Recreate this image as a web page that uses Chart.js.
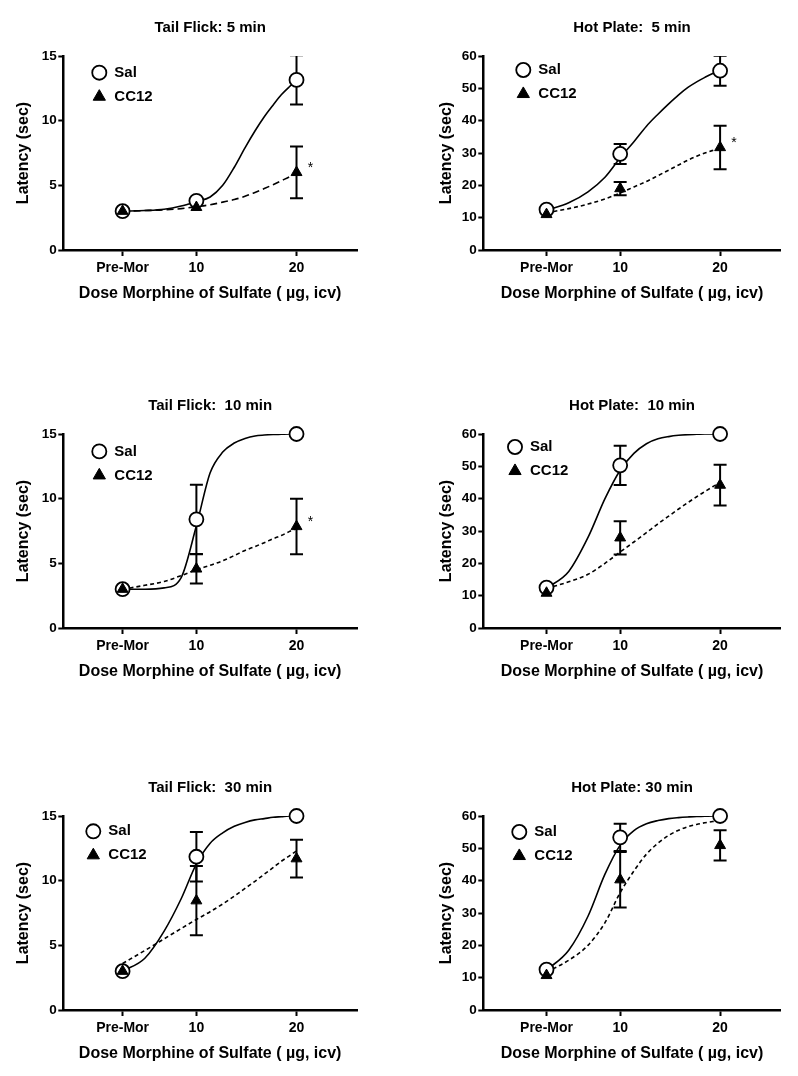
<!DOCTYPE html>
<html>
<head>
<meta charset="utf-8">
<script src="https://cdn.jsdelivr.net/npm/chart.js@4.4.1/dist/chart.umd.min.js"></script>
<style>
  body { margin: 0; background: #fff; }
  #wrap { position: relative; width: 798px; height: 1076px; }
  canvas { position: absolute; }
</style>
</head>
<body>
<div id="wrap"></div>
<script>
// doses: Pre-Mor sits at 6 on the log dose axis, like the original plot
const doses = [6, 10, 20]
const doseLabels = ['Pre-Mor', '10', '20']
const fitDoses = [6, 7, 8, 9, 10, 11, 12, 13, 14, 15, 16, 17, 18, 19, 20]

const titles = ['Tail Flick: 5 min', 'Hot Plate:  5 min', 'Tail Flick:  10 min',
                'Hot Plate:  10 min', 'Tail Flick:  30 min', 'Hot Plate: 30 min']
const yMax = [15, 60, 15, 60, 15, 60]
const yStep = [5, 10, 5, 10, 5, 10]

// means and SEM per panel (0 = bar hidden behind symbol)
const salMean = [[3.0, 3.8, 13.15], [12.5, 29.7, 55.45], [3.0, 8.4, 15.0],
                 [12.5, 50.3, 60.0], [3.0, 11.85, 15.0], [12.5, 53.4, 60.0]]
const salSem = [[0, 0, 1.9], [0, 3.1, 4.65], [0, 2.67, 0],
                [0, 6.1, 0], [0, 1.92, 0], [0, 4.2, 0]]
const ccMean = [[3.0, 3.3, 6.0], [11.0, 19.0, 31.7], [3.0, 4.57, 7.85],
                [10.8, 27.9, 44.2], [3.0, 8.45, 11.7], [10.7, 40.3, 50.9]]
const ccSem = [[0, 0, 2.0], [0, 2.05, 6.7], [0, 1.13, 2.15],
               [0, 5.15, 6.3], [0, 2.68, 1.46], [0, 8.6, 4.7]]

// fitted curves at fitDoses
const salFit = [
  [3.0, 3.05, 3.15, 3.4, 3.75, 4.1, 5.0, 6.4, 7.9, 9.2, 10.3, 11.2, 12.0, 12.6, 13.1],
  [12.3, 14.6, 18.0, 22.5, 28.5, 33.5, 38.3, 42.0, 45.2, 48.0, 50.3, 52.0, 53.4, 54.6, 55.5],
  [3.0, 3.0, 3.1, 3.9, 7.9, 12.0, 13.6, 14.3, 14.65, 14.85, 14.92, 14.96, 14.98, 15.0, 15.0],
  [12.3, 17.5, 28.0, 40.0, 48.8, 54.0, 57.0, 58.5, 59.2, 59.6, 59.8, 59.9, 60.0, 60.0, 60.0],
  [3.0, 4.0, 6.1, 8.6, 11.3, 12.9, 13.7, 14.2, 14.5, 14.7, 14.8, 14.9, 14.95, 15.0, 15.0],
  [12.3, 18.5, 29.0, 42.0, 51.0, 55.5, 57.6, 58.6, 59.2, 59.5, 59.7, 59.85, 59.9, 60.0, 60.0]
]
const ccFit = [
  [3.0, 3.05, 3.1, 3.2, 3.35, 3.5, 3.7, 3.9, 4.15, 4.45, 4.75, 5.05, 5.35, 5.65, 5.9],
  [11.5, 12.8, 14.2, 15.8, 17.6, 19.5, 21.2, 23.0, 24.7, 26.3, 27.8, 29.0, 30.0, 30.8, 31.5],
  [3.0, 3.3, 3.6, 4.05, 4.5, 4.85, 5.2, 5.6, 6.0, 6.3, 6.6, 6.9, 7.15, 7.45, 7.7],
  [12.2, 14.3, 16.6, 20.0, 23.5, 26.6, 29.5, 32.2, 34.6, 36.8, 38.8, 40.6, 42.2, 43.7, 45.0],
  [3.6, 4.6, 5.5, 6.3, 7.0, 7.6, 8.2, 8.8, 9.4, 9.95, 10.5, 11.0, 11.5, 11.9, 12.3],
  [11.7, 15.4, 20.0, 27.0, 36.3, 43.0, 48.2, 51.6, 54.0, 55.6, 56.7, 57.4, 57.9, 58.3, 58.6]
]
const starred = [true, true, true, false, false, false]

// where each panel sits on the page
const frames = [
  { left: 0,   top: 0,   w: 400, yW: 63.3, padR: 43,   yPad: 14.4, xMin: 3.98, xMax: 30.4,  leg: [36, 16.7] },
  { left: 400, top: 0,   w: 398, yW: 83.3, padR: 17.3, yPad: 37.1, xMin: 3.87, xMax: 30.45, leg: [40, 14] },
  { left: 0,   top: 378, w: 400, yW: 63.3, padR: 43,   yPad: 14.4, xMin: 3.98, xMax: 30.4,  leg: [36, 17.4] },
  { left: 400, top: 378, w: 398, yW: 83.3, padR: 17.3, yPad: 37.1, xMin: 3.87, xMax: 30.45, leg: [31.7, 13] },
  { left: 0,   top: 760, w: 400, yW: 63.3, padR: 43,   yPad: 14.4, xMin: 3.98, xMax: 30.4,  leg: [30, 15.3] },
  { left: 400, top: 760, w: 398, yW: 83.3, padR: 17.3, yPad: 37.1, xMin: 3.87, xMax: 30.45, leg: [36, 16] }
]

Chart.defaults.font.family = '"Liberation Sans", Arial, sans-serif'
Chart.defaults.color = '#000'

// move the legend to the spot used in each panel
const legendSpot = {
  id: 'legendSpot',
  beforeDraw(chart, args, opts) {
    const lg = chart.legend
    const a = chart.chartArea
    const pad = lg.options.labels.padding
    lg.left = a.left + opts.dx - pad - 7.5
    lg.top = a.top + opts.dy - pad - 7.5
    lg.right = lg.left + 160
    lg.bottom = lg.top + 70
  }
}

const starMark = {
  id: 'starMark',
  afterDatasetsDraw(chart, args, opts) {
    if (!opts.show) return
    const { ctx, scales: { x, y } } = chart
    ctx.save()
    ctx.font = '14px "Liberation Sans", Arial, sans-serif'
    ctx.fillStyle = '#000'
    ctx.textAlign = 'center'
    ctx.textBaseline = 'middle'
    ctx.fillText('*', x.getPixelForValue(opts.dose) + 14, y.getPixelForValue(opts.value) - 4)
    ctx.restore()
  }
}

const errData = (mean, sem) => {
  let pts = []
  doses.forEach((d, i) => {
    if (sem[i] > 0) {
      pts.push({ x: d, y: mean[i] - sem[i] }, { x: d, y: mean[i] + sem[i] }, { x: d, y: null })
    }
  })
  return pts
}

const wrap = document.getElementById('wrap')

frames.forEach((f, p) => {
  const canvas = document.createElement('canvas')
  canvas.width = f.w
  canvas.height = 310
  canvas.style.left = f.left + 'px'
  canvas.style.top = f.top + 'px'
  canvas.style.width = f.w + 'px'
  canvas.style.height = '310px'
  wrap.appendChild(canvas)

  new Chart(canvas, {
    type: 'line',
    data: {
      datasets: [
        {
          label: 'Sal',
          data: doses.map((d, i) => ({ x: d, y: salMean[p][i] })),
          showLine: false, clip: false, order: 1,
          pointStyle: 'circle', pointRadius: 7, pointBorderWidth: 1.8,
          pointBackgroundColor: '#fff', pointBorderColor: '#000'
        },
        {
          label: 'CC12',
          data: doses.map((d, i) => ({ x: d, y: ccMean[p][i] })),
          showLine: false, clip: false, order: 0,
          pointStyle: 'triangle', pointRadius: 6.3, pointBorderWidth: 1,
          pointBackgroundColor: '#000', pointBorderColor: '#000'
        },
        {
          label: 'Sal fit',
          data: fitDoses.map((d, i) => ({ x: d, y: salFit[p][i] })),
          order: 2, pointRadius: 0, borderColor: '#000', borderWidth: 1.6,
          cubicInterpolationMode: 'monotone'
        },
        {
          label: 'CC12 fit',
          data: fitDoses.map((d, i) => ({ x: d, y: ccFit[p][i] })),
          order: 2, pointRadius: 0, borderColor: '#000', borderWidth: 1.6,
          borderDash: p === 0 ? [7, 4] : [4, 3],
          cubicInterpolationMode: 'monotone'
        },
        {
          label: 'Sal sem',
          data: errData(salMean[p], salSem[p]),
          order: 3, borderColor: '#000', borderWidth: 2, spanGaps: false,
          pointStyle: 'line', pointRadius: 6.5, pointBorderWidth: 2, pointBorderColor: '#000'
        },
        {
          label: 'CC12 sem',
          data: errData(ccMean[p], ccSem[p]),
          order: 3, borderColor: '#000', borderWidth: 2, spanGaps: false,
          pointStyle: 'line', pointRadius: 6.5, pointBorderWidth: 2, pointBorderColor: '#000'
        }
      ]
    },
    options: {
      responsive: false,
      animation: false,
      devicePixelRatio: 1,
      events: [],
      layout: { padding: { left: 0, right: f.padR, top: 0, bottom: 0 } },
      scales: {
        x: {
          type: 'logarithmic',
          min: f.xMin, max: f.xMax, bounds: 'data',
          afterBuildTicks: (axis) => { axis.ticks = doses.map(v => ({ value: v })) },
          afterFit: (axis) => { axis.height = 60 },
          ticks: {
            autoSkip: false, maxRotation: 0, padding: 3.5,
            font: { size: 14, weight: 'bold' },
            callback: (v, i) => doseLabels[i]
          },
          grid: { drawOnChartArea: false, drawTicks: true, tickLength: 6, tickWidth: 2, tickColor: '#000' },
          border: { display: true, color: '#000', width: 2.5 },
          title: {
            display: true, text: 'Dose Morphine of Sulfate ( \u00b5g, icv)',
            font: { size: 16, weight: 'bold' }, padding: { top: 0, bottom: 7 }
          }
        },
        y: {
          min: 0, max: yMax[p],
          afterFit: (axis) => { axis.width = f.yW },
          ticks: { stepSize: yStep[p], padding: 1.5, font: { size: 13.5, weight: 'bold' } },
          grid: { drawOnChartArea: false, drawTicks: true, tickLength: 5, tickWidth: 2, tickColor: '#000' },
          border: { display: true, color: '#000', width: 2.5 },
          title: {
            display: true, text: 'Latency (sec)',
            font: { size: 16, weight: 'bold' }, padding: { top: f.yPad, bottom: 0 }
          }
        }
      },
      plugins: {
        title: {
          display: true, text: titles[p], fullSize: false, color: '#000',
          font: { size: 15, weight: 'bold' }, padding: { top: 19, bottom: 19 }
        },
        legend: {
          position: 'chartArea', align: 'start',
          labels: {
            usePointStyle: true, boxWidth: 15, boxHeight: 10, padding: 9, color: '#000',
            font: { size: 15, weight: 'bold' },
            filter: (item) => item.datasetIndex < 2,
            sort: (a, b) => a.datasetIndex - b.datasetIndex
          }
        },
        tooltip: { enabled: false },
        legendSpot: { dx: f.leg[0], dy: f.leg[1] },
        starMark: { show: starred[p], dose: 20, value: ccMean[p][2] }
      }
    },
    plugins: [legendSpot, starMark]
  })
})
</script>
</body>
</html>
